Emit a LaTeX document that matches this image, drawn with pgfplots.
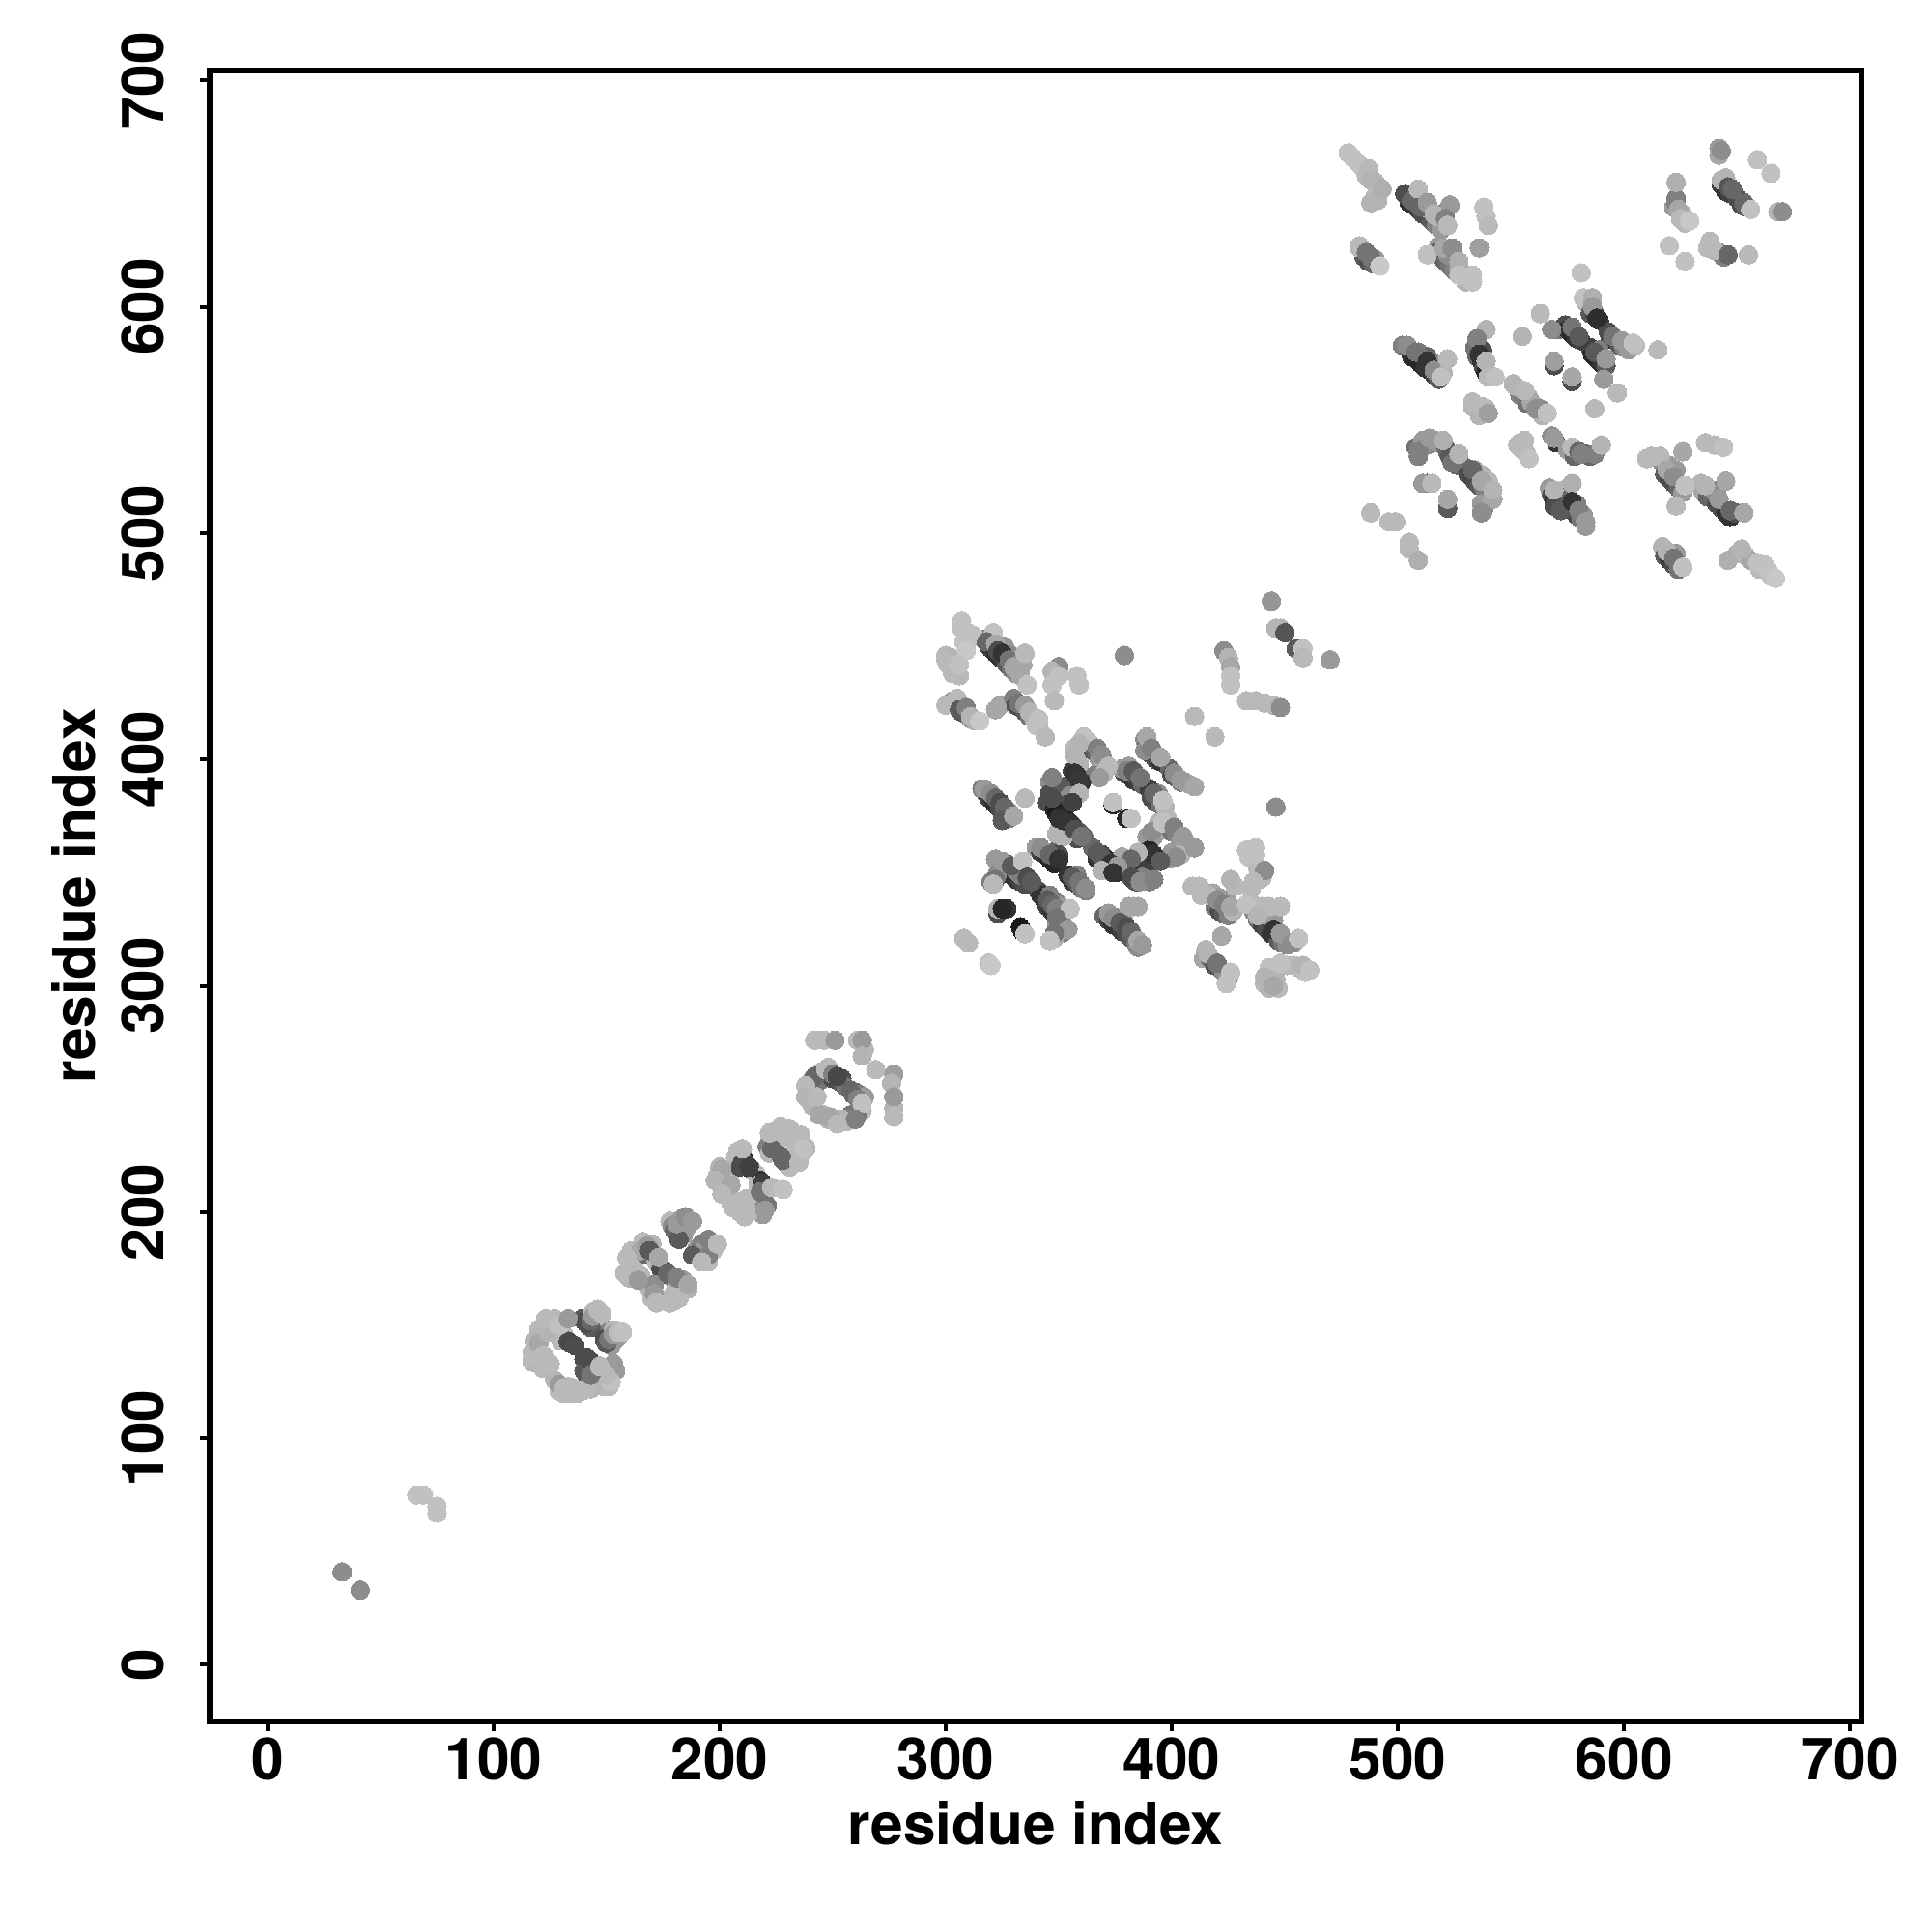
\documentclass[border=0pt]{standalone}
\usepackage{pgfplots}
\usepackage{fontspec}
\setmainfont{TeX Gyre Heros}
\pgfplotsset{compat=1.18}
\begin{document}
\begin{tikzpicture}
\useasboundingbox (-54.25pt,-54.5pt) rectangle (445.75pt,445.5pt);
\begin{axis}[
  at={(0pt,0pt)},anchor=south west,
  scale only axis,width=427.5pt,height=427.25pt,
  xmin=-25.6,xmax=705,ymin=-25,ymax=704.4,
  xtick={0,100,...,700},ytick={0,100,...,700},
  xtick pos=left,ytick pos=left,
  tick align=outside,major tick length=2.4pt,
  axis line style={line width=1.6pt},
  every tick/.style={black,line width=1pt},
  /pgf/number format/assume math mode=true,
  /pgf/number format/1000 sep={},
  tick label style={font=\fontsize{15.1}{16}\selectfont\bfseries},
  xticklabel style={yshift=1.7pt},
  yticklabel style={rotate=90,anchor=south},
  yticklabel shift=5.7pt,
  label style={font=\fontsize{15.1}{16}\selectfont\bfseries},
  xlabel={residue index},ylabel={residue index},
  xlabel style={at={(axis description cs:0.5,0)},anchor=base,yshift=-31.9pt},
  ylabel style={at={(axis description cs:0,0.5)},anchor=base,rotate=0,yshift=29.6pt},
  colormap={bw}{gray(0cm)=(0); gray(1cm)=(1)},
  point meta min=0,point meta max=1,
]
\addplot[scatter,only marks,mark=*,mark size=2.4pt,
  scatter/use mapped color={draw=mapped color,fill=mapped color},
  mark options={line width=0pt},
  point meta=explicit]
 table[x=x,y=y,meta=g,row sep=\\]{
x y g\\
120 148 .72\\ 122 150 .72\\ 125 151 .72\\ 121 145 .7\\ 118 143 .7\\ 117 138 .72\\ 117 134 .72\\ 120 133 .7\\ 122 131 .72\\
131 146 .72\\ 128 147 .72\\ 130 143 .72\\ 133 143 .3\\ 140 135 .3\\ 142 133 .35\\
139 153 .35\\ 140 152 .3\\ 142 150 .3\\ 145 152 .3\\ 147 152 .5\\ 146 154 .72\\ 144 156 .72\\ 143 149 .35\\
149 144 .3\\ 150 143 .3\\ 152 146 .3\\ 154 144 .5\\ 155 145 .6\\ 152 141 .6\\ 153 148 .7\\
154 130 .6\\ 151 131 .7\\ 145 125 .72\\ 147 130 .72\\ 151 123 .72\\ 149 123 .72\\
127 126 .7\\ 129 121 .72\\ 131 120 .72\\ 133 123 .72\\ 135 122 .72\\ 143 122 .7\\ 140 130 .35\\ 141 128 .35\\ 144 130 .35\\
162 178 .72\\ 160 176 .72\\ 161 183 .72\\ 162 172 .7\\ 160 171 .7\\ 165 172 .72\\ 166 187 .72\\ 167 183 .45\\ 168 181 .4\\ 170 182 .4\\ 171 181 .55\\ 172 178 .72\\ 165 183 .65\\ 170 186 .7\\
178 196 .72\\ 179 194 .55\\ 180 192 .4\\ 183 196 .7\\ 186 194 .6\\ 183 197 .6\\ 184 190 .6\\
190 184 .6\\ 192 186 .5\\ 194 184 .5\\ 196 186 .7\\ 193 183 .6\\ 197 183 .72\\ 195 178 .72\\
174 175 .3\\ 176 174 .3\\ 178 172 .3\\ 180 170 .45\\ 183 169 .5\\ 184 170 .6\\ 186 166 .7\\
169 166 .7\\ 170 162 .72\\ 171 168 .55\\ 173 162 .72\\ 178 160 .72\\ 180 165 .72\\ 182 162 .72\\
199 216 .72\\ 200 220 .7\\ 202 214 .7\\ 203 210 .7\\ 203 216 .7\\ 205 218 .7\\ 207 224 .72\\ 208 227 .72\\ 209 220 .3\\ 211 223 .2\\ 212 221 .25\\ 214 219 .2\\ 216 217 .72\\ 218 214 .2\\ 220 212 .2\\ 221 210 .45\\ 217 212 .72\\
205 204 .72\\ 207 205 .72\\ 209 200 .72\\ 211 198 .72\\ 215 203 .65\\ 217 203 .55\\ 219 199 .6\\ 221 203 .45\\
222 231 .72\\ 224 233 .72\\ 225 236 .72\\ 228 233 .72\\ 231 237 .72\\ 221 229 .5\\ 222 226 .72\\
227 225 .4\\ 229 222 .45\\ 231 220 .72\\ 234 224 .72\\ 236 226 .72\\ 238 229 .75\\ 233 231 .72\\ 236 234 .72\\ 238 228 .7\\
240 256 .65\\ 239 253 .65\\ 240 249 .72\\ 241 247 .7\\ 241 259 .6\\ 244 258 .45\\ 245 262 .7\\ 248 264 .72\\ 250 259 .3\\ 254 259 .3\\ 254 257 .35\\ 256 255 .45\\
258 254 .4\\ 260 253 .4\\ 262 252 .5\\ 264 251 .6\\ 263 245 .72\\ 258 243 .45\\ 261 244 .45\\ 258 241 .5\\ 256 240 .72\\ 254 241 .7\\ 246 243 .7\\ 248 241 .7\\ 244 243 .65\\ 264 272 .72\\
317 453 .5\\ 319 450 .25\\ 320 449 .25\\ 322 447 .2\\ 324 445 .2\\ 326 444 .25\\ 327 442 .35\\ 329 440 .45\\ 331 438 .55\\ 333 437 .65\\ 326 450 .6\\ 329 446 .55\\ 332 444 .65\\
301 442 .72\\ 300 446 .72\\ 302 445 .7\\ 303 438 .72\\ 306 437 .72\\ 308 452 .75\\ 307 458 .75\\ 309 450 .75\\ 312 455 .75\\
303 426 .6\\ 305 424 .35\\ 307 421 .3\\ 309 420 .35\\ 311 418 .55\\ 313 417 .7\\ 324 424 .65\\
330 427 .5\\ 331 424 .3\\ 333 423 .3\\ 335 421 .35\\ 337 419 .45\\ 339 418 .7\\ 341 415 .72\\
357 405 .72\\ 358 403 .65\\ 360 405 .72\\ 363 408 .75\\ 359 398 .7\\
362 406 .72\\ 365 404 .35\\ 367 402 .4\\ 368 400 .6\\ 370 399 .65\\ 371 396 .7\\ 366 393 .5\\ 370 394 .72\\
346 390 .55\\ 348 389 .6\\ 346 385 .3\\ 345 381 .3\\ 349 381 .4\\ 356 395 .25\\ 358 393 .15\\ 360 390 .2\\ 352 388 .35\\ 354 383 .2\\ 355 384 .55\\ 353 380 .3\\
379 394 .3\\ 381 393 .25\\ 383 391 .2\\ 385 390 .25\\ 387 389 .4\\ 378 396 .6\\ 381 397 .6\\
388 409 .55\\ 389 407 .35\\ 390 403 .3\\ 392 402 .2\\ 393 400 .3\\ 395 399 .2\\ 388 404 .55\\
399 396 .4\\ 400 393 .3\\ 402 392 .35\\ 404 390 .5\\ 406 390 .6\\ 408 389 .65\\
390 387 .25\\ 391 383 .3\\ 393 381 .3\\ 395 380 .45\\ 397 379 .7\\ 394 385 .55\\
316 387 .5\\ 318 385 .3\\ 319 383 .25\\ 321 382 .2\\ 322 380 .2\\ 324 378 .3\\ 326 376 .35\\ 328 374 .5\\ 328 377 .6\\
348 378 .15\\ 349 376 .1\\ 351 375 .15\\ 353 374 .1\\ 351 371 .2\\ 353 369 .2\\ 355 367 .25\\ 358 365 .3\\ 356 371 .3\\ 359 368 .35\\ 361 366 .4\\ 349 367 .7\\ 352 366 .7\\
389 366 .6\\ 392 366 .6\\ 394 372 .7\\ 398 374 .72\\ 397 369 .65\\ 400 368 .45\\ 402 367 .5\\ 404 364 .6\\ 406 363 .65\\ 408 362 .65\\ 400 359 .6\\ 399 356 .6\\ 404 358 .7\\
390 360 .15\\ 392 357 .15\\ 393 355 .2\\ 388 355 .2\\ 390 353 .25\\
365 361 .4\\ 367 356 .2\\ 369 358 .25\\ 371 356 .15\\ 373 352 .15\\ 375 350 .15\\ 372 352 .5\\ 376 355 .55\\ 379 352 .2\\ 380 355 .3\\ 378 357 .65\\
381 350 .2\\ 383 347 .2\\ 384 346 .35\\ 387 348 .5\\ 390 346 .5\\
340 361 .6\\ 342 359 .25\\ 344 358 .2\\ 346 356 .15\\ 348 354 .15\\ 347 359 .4\\ 350 358 .3\\
354 349 .2\\ 356 346 .2\\ 358 345 .3\\ 360 343 .45\\ 362 342 .5\\ 358 349 .5\\
322 356 .6\\ 327 354 .3\\ 327 351 .2\\ 329 349 .2\\ 331 347 .2\\ 333 346 .25\\ 335 345 .3\\ 331 351 .55\\ 333 349 .5\\ 320 346 .5\\ 323 350 .55\\
341 342 .3\\ 342 340 .2\\ 344 337 .2\\ 345 335 .25\\ 347 333 .2\\ 349 331 .3\\ 351 329 .45\\ 352 327 .5\\ 346 340 .5\\ 349 337 .5\\ 351 335 .6\\
351 323 .5\\ 348 321 .7\\ 349 326 .6\\ 323 332 .3\\ 327 334 .2\\ 333 326 .1\\
370 331 .4\\ 372 329 .25\\ 374 327 .2\\ 376 326 .2\\ 378 324 .25\\ 380 323 .3\\ 382 321 .35\\ 384 319 .45\\ 385 317 .55\\ 372 332 .6\\ 376 330 .55\\ 379 328 .5\\ 381 335 .65\\ 385 335 .65\\
413 340 .72\\ 418 341 .65\\ 419 335 .45\\ 421 333 .3\\ 423 332 .35\\ 425 331 .5\\ 421 339 .6\\ 424 338 .6\\ 427 333 .7\\ 412 344 .72\\
434 357 .75\\ 437 361 .75\\ 438 352 .72\\ 436 346 .72\\ 435 343 .72\\ 439 347 .7\\ 440 348 .72\\ 428 344 .72\\
436 336 .72\\ 436 333 .55\\ 438 329 .45\\ 440 327 .25\\ 442 325 .3\\ 444 323 .2\\ 446 322 .2\\ 447 320 .35\\ 449 319 .45\\ 451 318 .55\\ 454 319 .7\\ 440 335 .72\\ 442 331 .6\\ 445 329 .6\\
443 308 .75\\ 441 301 .72\\ 443 299 .7\\ 447 299 .72\\ 446 303 .7\\ 451 309 .72\\ 454 309 .72\\ 456 308 .72\\ 459 306 .75\\
415 316 .7\\ 414 312 .65\\ 417 312 .4\\ 419 309 .3\\ 421 308 .35\\ 423 306 .55\\ 425 303 .6\\
480 666 .75\\ 484 662 .75\\ 486 658 .72\\ 490 655 .7\\ 490 649 .72\\ 491 647 .7\\
503 650 .3\\ 505 646 .2\\ 507 645 .2\\ 509 643 .25\\ 511 641 .3\\ 513 640 .3\\ 515 638 .35\\ 517 636 .5\\ 519 634 .6\\ 510 648 .6\\ 514 643 .65\\ 517 640 .7\\ 521 642 .5\\
483 627 .72\\ 485 622 .35\\ 487 620 .3\\ 489 619 .4\\ 490 621 .6\\
518 627 .6\\ 517 624 .35\\ 519 622 .35\\ 521 620 .4\\ 523 618 .45\\ 525 616 .5\\ 527 617 .65\\ 522 623 .55\\ 530 611 .7\\
645 657 .7\\ 643 654 .25\\ 645 651 .2\\ 647 650 .25\\ 650 648 .3\\ 652 645 .3\\ 654 644 .35\\ 642 670 .6\\ 642 667 .65\\
623 648 .5\\ 622 644 .6\\ 626 641 .7\\ 627 637 .72\\ 637 626 .72\\ 642 624 .55\\ 644 622 .5\\
583 602 .7\\ 585 597 .35\\ 587 597 .25\\ 589 594 .2\\
571 590 .45\\ 574 592 .3\\ 575 590 .2\\ 577 588 .15\\ 579 586 .2\\ 581 585 .25\\
593 589 .3\\ 594 586 .3\\ 596 585 .25\\ 598 583 .35\\ 600 582 .5\\ 602 581 .6\\ 605 583 .72\\
585 582 .25\\ 586 579 .15\\ 588 577 .15\\ 590 575 .2\\ 592 574 .35\\ 589 581 .5\\ 569 574 .3\\ 577 567 .3\\
502 583 .5\\ 505 581 .35\\ 506 578 .2\\ 508 577 .15\\ 510 575 .15\\ 512 573 .2\\ 514 572 .2\\ 516 570 .25\\ 518 568 .35\\ 509 580 .5\\ 513 578 .4\\ 517 575 .55\\ 520 571 .7\\
535 584 .3\\ 534 582 .45\\ 535 578 .4\\ 537 581 .3\\ 537 576 .2\\ 538 573 .3\\ 539 571 .15\\
551 566 .7\\ 554 561 .5\\ 558 560 .72\\ 557 557 .45\\ 559 558 .65\\ 563 555 .55\\ 564 552 .7\\ 533 556 .7\\ 535 555 .72\\ 539 555 .7\\ 536 552 .7\\
554 540 .72\\ 555 537 .72\\ 557 535 .72\\ 556 541 .72\\
568 543 .55\\ 570 540 .2\\ 575 537 .6\\ 578 534 .4\\ 583 535 .4\\ 585 534 .4\\
508 538 .45\\ 509 534 .5\\ 511 541 .6\\ 513 539 .55\\ 516 541 .6\\ 518 540 .6\\ 521 538 .45\\ 522 536 .4\\ 523 534 .35\\ 525 532 .3\\ 526 530 .4\\
530 529 .4\\ 531 526 .3\\ 533 525 .25\\ 534 523 .3\\ 536 521 .35\\ 538 520 .45\\ 539 518 .5\\ 534 528 .65\\ 537 526 .7\\ 540 523 .72\\ 538 511 .5\\ 537 513 .6\\ 513 522 .3\\
567 520 .6\\ 568 517 .3\\ 569 515 .2\\ 571 514 .2\\ 573 512 .15\\ 575 511 .15\\ 577 510 .2\\ 579 508 .3\\ 581 506 .45\\ 573 519 .7\\ 575 516 .4\\ 579 513 .5\\ 582 508 .6\\ 583 503 .6\\
610 533 .72\\ 617 531 .55\\ 618 526 .35\\ 620 524 .3\\ 622 522 .3\\ 624 520 .4\\ 626 518 .6\\ 620 530 .6\\ 623 528 .6\\
634 522 .7\\ 635 518 .65\\ 637 516 .4\\ 639 519 .5\\ 641 513 .3\\ 643 511 .3\\ 645 509 .2\\ 647 507 .2\\ 649 509 .3\\ 641 517 .55\\
617 494 .7\\ 618 490 .35\\ 620 488 .25\\ 622 486 .3\\ 624 484 .45\\ 623 491 .6\\
650 491 .7\\ 654 490 .72\\ 656 488 .65\\ 660 484 .72\\ 662 486 .75\\ 665 481 .75\\
33 41 .55\\ 41 33 .55\\
66 75 .75\\ 69 75 .75\\ 75 70 .75\\ 75 67 .75\\
119 136 .72\\ 118 140 .72\\ 120 142 .65\\ 124 147 .7\\ 123 153 .72\\ 127 153 .72\\ 129 150 .75\\ 133 153 .6\\
134 142 .28\\ 136 141 .3\\ 141 136 .3\\ 143 134 .3\\ 125 133 .72\\ 122 137 .72\\
141 151 .3\\ 143 152 .4\\ 144 154 .6\\ 146 157 .72\\ 148 155 .72\\
150 142 .35\\ 151 144 .45\\ 153 146 .6\\ 155 147 .72\\ 157 147 .75\\
153 133 .6\\ 147 127 .72\\ 149 126 .7\\ 152 125 .75\\ 150 128 .72\\
129 124 .6\\ 131 122 .72\\ 134 120 .72\\ 137 120 .72\\ 139 121 .72\\ 141 122 .72\\ 143 128 .45\\ 147 132 .72\\
159 180 .72\\ 158 173 .72\\ 164 170 .6\\ 168 185 .6\\ 169 183 .35\\ 173 180 .65\\
182 188 .35\\ 188 181 .35\\ 181 195 .6\\ 185 198 .55\\ 188 196 .6\\
195 188 .5\\ 195 181 .5\\ 199 186 .72\\ 192 178 .72\\
177 173 .4\\ 181 171 .5\\ 186 168 .65\\ 171 164 .6\\ 172 160 .72\\ 180 161 .72\\
210 222 .3\\ 213 220 .25\\ 219 213 .25\\ 210 228 .72\\ 201 219 .65\\ 198 214 .7\\ 205 212 .65\\ 201 208 .72\\ 206 202 .72\\
213 200 .72\\ 212 206 .72\\ 220 201 .6\\ 218 209 .45\\ 223 211 .72\\ 228 210 .75\\
223 228 .4\\ 228 223 .4\\ 222 235 .72\\ 227 238 .72\\ 229 236 .72\\ 235 222 .72\\ 237 228 .75\\
242 276 .72\\ 246 276 .72\\ 251 276 .6\\ 261 276 .72\\ 263 276 .6\\ 263 269 .7\\ 269 263 .72\\ 277 261 .62\\ 276 257 .7\\ 277 246 .7\\ 277 242 .72\\ 277 251 .6\\
242 260 .4\\ 247 263 .72\\ 250 261 .5\\ 252 260 .28\\ 238 256 .72\\ 238 251 .7\\ 243 251 .72\\
259 252 .4\\ 261 250 .5\\ 263 248 .75\\ 260 241 .5\\ 249 242 .65\\ 252 239 .72\\
307 461 .75\\ 310 456 .75\\ 309 448 .78\\ 300 444 .72\\ 304 440 .72\\ 306 442 .75\\
321 456 .75\\ 318 452 .4\\ 322 451 .65\\ 323 448 .3\\ 325 447 .2\\ 328 444 .45\\ 330 441 .65\\ 334 442 .65\\ 335 447 .72\\ 336 433 .75\\
300 424 .72\\ 305 427 .72\\ 306 422 .35\\ 309 423 .5\\ 311 419 .7\\ 315 417 .78\\ 322 422 .65\\
332 425 .45\\ 335 424 .6\\ 337 421 .7\\ 341 418 .75\\ 340 415 .75\\ 344 410 .72\\
350 441 .55\\ 347 439 .7\\ 350 437 .75\\ 347 433 .75\\ 348 426 .72\\ 358 437 .75\\ 359 433 .75\\ 379 446 .55\\
444 470 .58\\ 446 458 .7\\ 448 458 .7\\ 450 456 .33\\ 455 449 .35\\ 458 449 .75\\ 458 445 .72\\ 470 444 .6\\
423 448 .55\\ 425 445 .7\\ 426 441 .65\\ 426 437 .75\\ 426 433 .75\\ 433 426 .72\\ 437 426 .72\\ 441 425 .72\\ 445 424 .72\\ 448 423 .55\\ 410 419 .72\\ 419 410 .72\\ 446 379 .55\\
361 410 .75\\ 359 407 .7\\ 357 402 .7\\ 367 405 .5\\ 369 402 .55\\ 372 397 .72\\ 368 392 .6\\
347 392 .5\\ 347 383 .3\\ 357 394 .2\\ 359 391 .22\\ 359 385 .7\\ 356 381 .25\\
380 395 .5\\ 383 395 .35\\ 386 392 .45\\ 389 410 .65\\ 391 405 .5\\ 395 401 .65\\ 401 394 .55\\ 404 391 .6\\ 410 388 .65\\
392 385 .4\\ 396 382 .75\\ 374 380 .15\\ 374 381 .75\\ 380 374 .15\\ 382 374 .75\\ 335 383 .72\\
317 387 .6\\ 320 385 .55\\ 322 383 .4\\ 324 381 .3\\ 326 379 .4\\ 325 373 .35\\ 330 375 .65\\
350 369 .7\\ 350 374 .2\\ 352 373 .2\\ 355 372 .2\\ 357 369 .3\\ 360 366 .45\\
391 368 .55\\ 396 372 .75\\ 401 370 .5\\ 405 366 .6\\ 402 357 .55\\ 410 361 .6\\ 392 358 .2\\ 395 355 .35\\ 385 359 .7\\ 382 356 .4\\
367 359 .35\\ 369 357 .35\\ 373 354 .2\\ 376 353 .6\\ 369 351 .7\\ 374 350 .2\\ 382 348 .3\\ 386 346 .55\\ 392 347 .5\\
342 361 .55\\ 346 358 .4\\ 350 356 .2\\ 356 348 .35\\ 359 346 .45\\ 362 343 .55\\
325 355 .6\\ 329 353 .35\\ 334 355 .75\\ 336 348 .3\\ 338 346 .35\\ 322 347 .45\\ 321 345 .72\\
345 338 .35\\ 347 336 .4\\ 349 334 .5\\ 355 334 .75\\ 349 330 .45\\ 354 325 .6\\ 348 323 .45\\ 346 320 .75\\
323 334 .7\\ 325 334 .15\\ 334 324 .1\\ 335 323 .75\\ 308 321 .72\\ 310 319 .72\\ 319 310 .75\\ 320 309 .78\\
374 330 .55\\ 377 328 .35\\ 380 326 .3\\ 382 324 .4\\ 385 320 .65\\ 387 318 .6\\ 383 335 .65\\
409 344 .72\\ 416 340 .72\\ 420 338 .55\\ 423 336 .5\\ 426 335 .65\\ 433 360 .75\\ 437 358 .75\\ 441 351 .55\\ 436 346 .72\\ 426 347 .7\\
433 336 .75\\ 448 335 .72\\ 443 335 .72\\ 438 331 .7\\ 445 325 .2\\ 448 323 .6\\ 453 319 .55\\ 456 321 .75\\
448 310 .75\\ 458 309 .7\\ 461 307 .75\\ 441 304 .7\\ 445 300 .65\\
422 322 .65\\ 416 314 .7\\ 420 310 .45\\ 424 301 .75\\ 426 306 .75\\
478 668 .75\\ 482 664 .75\\ 487 661 .72\\ 488 656 .7\\ 488 646 .7\\ 493 652 .68\\
504 649 .3\\ 506 647 .4\\ 509 652 .72\\ 510 644 .4\\ 513 646 .6\\ 516 641 .7\\ 523 645 .6\\ 521 639 .5\\ 522 636 .72\\
538 644 .75\\ 539 640 .75\\ 540 636 .72\\ 536 626 .62\\
483 626 .72\\ 486 624 .45\\ 488 622 .45\\ 492 618 .78\\
513 623 .75\\ 520 626 .65\\ 524 626 .55\\ 527 620 .68\\ 527 614 .75\\ 533 614 .75\\ 533 611 .75\\
643 669 .55\\ 659 665 .75\\ 665 659 .75\\ 623 655 .68\\ 643 656 .7\\ 646 653 .33\\ 648 652 .4\\ 653 646 .4\\ 656 643 .75\\ 668 642 .7\\ 670 642 .55\\
623 646 .5\\ 624 643 .65\\ 625 639 .72\\ 629 638 .78\\ 620 627 .75\\ 627 620 .75\\ 638 629 .72\\ 640 625 .72\\ 646 623 .4\\ 655 623 .72\\
581 615 .75\\ 582 604 .75\\ 586 604 .68\\ 586 600 .6\\ 588 595 .18\\ 568 590 .55\\ 577 591 .45\\ 580 587 .35\\ 563 597 .72\\ 555 587 .7\\
595 587 .45\\ 599 585 .6\\ 604 584 .75\\ 587 580 .35\\ 592 577 .6\\ 615 581 .72\\ 569 576 .62\\ 577 569 .65\\ 591 568 .6\\ 597 562 .72\\ 587 555 .72\\
504 583 .55\\ 508 580 .45\\ 513 576 .2\\ 516 572 .55\\ 519 569 .75\\ 522 577 .72\\
539 590 .7\\ 535 586 .5\\ 536 579 .2\\ 539 576 .7\\ 540 569 .72\\ 543 569 .75\\
552 565 .7\\ 556 563 .72\\ 561 555 .55\\ 566 553 .75\\ 533 558 .72\\ 537 556 .72\\ 540 553 .62\\ 553 539 .72\\ 558 533 .75\\
569 542 .6\\ 577 538 .72\\ 580 536 .4\\ 581 535 .5\\ 587 535 .5\\ 590 539 .7\\ 626 536 .65\\
509 536 .5\\ 514 542 .6\\ 520 541 .68\\ 524 531 .45\\ 527 535 .7\\ 533 528 .4\\ 537 523 .65\\ 542 515 .65\\ 542 519 .7\\ 537 509 .55\\
511 522 .6\\ 515 522 .72\\ 522 511 .35\\ 522 515 .65\\ 488 509 .72\\ 496 505 .72\\ 499 505 .72\\ 505 496 .72\\ 505 493 .72\\ 509 488 .68\\
569 512 .3\\ 569 519 .7\\ 577 522 .68\\ 572 510 .35\\ 577 514 .2\\ 580 510 .5\\ 583 505 .6\\ 623 512 .72\\
612 534 .72\\ 616 534 .72\\ 636 540 .72\\ 640 539 .72\\ 644 538 .75\\ 619 528 .65\\ 622 525 .55\\ 627 521 .75\\
636 521 .7\\ 645 523 .65\\ 642 515 .6\\ 647 510 .4\\ 653 509 .65\\
619 492 .7\\ 622 489 .45\\ 626 485 .75\\ 646 488 .68\\ 652 493 .7\\ 659 487 .75\\ 664 483 .75\\ 667 480 .78\\
};
\end{axis}
\end{tikzpicture}
\end{document}
